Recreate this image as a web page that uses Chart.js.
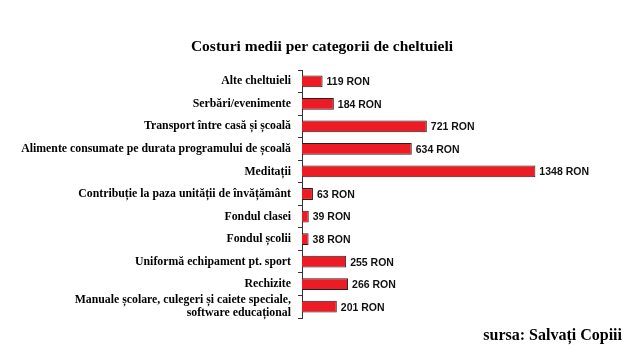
<!DOCTYPE html>
<html>
<head>
<meta charset="utf-8">
<script src="https://cdn.jsdelivr.net/npm/chart.js@4/dist/chart.umd.min.js"></script>
<style>
  html, body { margin: 0; padding: 0; background: #fff; }
  #wrap { width: 640px; height: 360px; position: relative; }
</style>
</head>
<body>
<div id="wrap"><canvas id="costChart"></canvas></div>
<script>
// date
const categorii = [
    'Alte cheltuieli',
    'Serbări/evenimente',
    'Transport între casă și școală',
    'Alimente consumate pe durata programului de școală',
    'Meditații',
    'Contribuție la paza unității de învățământ',
    'Fondul clasei',
    'Fondul școlii',
    'Uniformă echipament pt. sport',
    'Rechizite',
    ['Manuale școlare, culegeri și caiete speciale,', 'software educațional']
];
const costuri = [119, 184, 721, 634, 1348, 63, 39, 38, 255, 266, 201];
const unitate = 'RON';
const titlu = 'Costuri medii per categorii de cheltuieli';
const sursa = 'sursa: Salvați Copiii';

// titlu, etichete valori si sursa
const etichetePlugin = {
    id: 'etichete',
    afterDatasetsDraw(chart) {
        const ctx = chart.ctx;
        const meta = chart.getDatasetMeta(0);
        ctx.save();
        ctx.font = 'bold 10.5px "Liberation Sans", Arial, sans-serif';
        ctx.fillStyle = '#111';
        ctx.textBaseline = 'middle';
        ctx.textAlign = 'left';
        meta.data.forEach((bar, i) => {
            ctx.fillText(costuri[i] + ' ' + unitate, bar.x + 4, bar.y + 1);
        });
        ctx.fillStyle = '#000';
        ctx.textAlign = 'center';
        ctx.font = 'bold 15.5px "Liberation Serif", "Times New Roman", serif';
        ctx.fillText(titlu, 322, 47);
        ctx.font = 'bold 16px "Liberation Serif", "Times New Roman", serif';
        ctx.textAlign = 'right';
        ctx.fillText(sursa, 622, 336);
        ctx.restore();
    }
};

const ctx = document.getElementById('costChart').getContext('2d');
new Chart(ctx, {
    type: 'bar',
    data: {
        labels: categorii,
        datasets: [{
            data: costuri,
            backgroundColor: '#ED1C24',
            borderColor: '#222',
            borderWidth: 1,
            borderSkipped: 'left',
            barPercentage: 0.95,
            categoryPercentage: 0.55
        }]
    },
    options: {
        indexAxis: 'y',
        responsive: true,
        maintainAspectRatio: false,
        animation: false,
        layout: { padding: { top: 70, bottom: 42, left: 0, right: 61 } },
        plugins: {
            legend: { display: false },
            tooltip: { enabled: false },
            title: { display: false }
        },
        scales: {
            x: {
                display: false,
                min: 0,
                max: 1600
            },
            y: {
                afterFit(scale) { scale.width = 302; },
                border: { display: true, color: '#333', width: 1 },
                grid: {
                    drawOnChartArea: false,
                    drawTicks: true,
                    tickLength: 4,
                    color: '#333',
                    offset: true
                },
                ticks: {
                    autoSkip: false,
                    color: '#000',
                    padding: 7,
                    font: { family: '"Liberation Serif", "Times New Roman", serif', size: 11.8, weight: 'bold', lineHeight: 1.12 }
                }
            }
        }
    },
    plugins: [etichetePlugin]
});
</script>
</body>
</html>
